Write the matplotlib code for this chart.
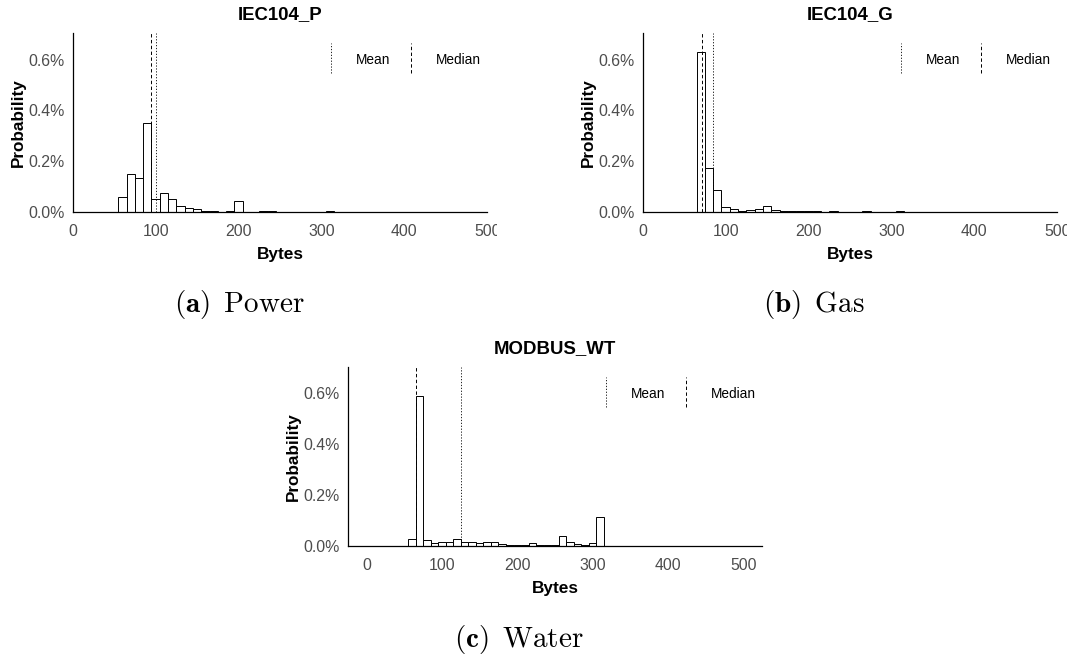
import matplotlib
matplotlib.use('Agg')
import matplotlib.pyplot as plt
from matplotlib.lines import Line2D
from matplotlib.legend_handler import HandlerBase
from matplotlib.transforms import Bbox, TransformedBbox
from matplotlib.ticker import FuncFormatter

plt.rcParams['font.family'] = 'Liberation Sans'
plt.rcParams['mathtext.fontset'] = 'cm'

# packet length histograms, 10-byte bins centred on these values (probability in %)
bin_centers = [60, 70, 80, 90, 100, 110, 120, 130, 140, 150, 160, 170, 180,
               190, 200, 210, 220, 230, 240, 250, 260, 270, 280, 290, 300, 310]
power_prob = [0.061, 0.150, 0.132, 0.351, 0.051, 0.076, 0.053, 0.022, 0.016,
              0.012, 0.004, 0.004, 0.000, 0.003, 0.045, 0.001, 0.001, 0.003,
              0.005, 0.001, 0.001, 0.000, 0.000, 0.001, 0.000, 0.003]
gas_prob = [0.000, 0.632, 0.175, 0.087, 0.020, 0.012, 0.004, 0.007, 0.011,
            0.024, 0.008, 0.005, 0.004, 0.003, 0.003, 0.002, 0.001, 0.002,
            0.001, 0.001, 0.001, 0.002, 0.000, 0.000, 0.000, 0.004]
water_prob = [0.025, 0.589, 0.022, 0.012, 0.014, 0.016, 0.028, 0.016, 0.016,
              0.012, 0.016, 0.013, 0.008, 0.004, 0.002, 0.004, 0.012, 0.002,
              0.004, 0.002, 0.039, 0.016, 0.008, 0.001, 0.009, 0.114]

titles = ['IEC104_P', 'IEC104_G', 'MODBUS_WT']
tags = ['(a)', '(b)', '(c)']
names = ['Power', 'Gas', 'Water']
means = [101, 85, 125]
medians = [94, 72, 66]

x_ticks = [0, 100, 200, 300, 400, 500]
y_ticks = [0.0, 0.2, 0.4, 0.6]

W, H = 1075, 658
fig = plt.figure(figsize=(W / 100, H / 100), dpi=100)

MEAN_LS = (0, (1.5, 2))
MEDIAN_LS = (0, (3.5, 2.5))
TICK_GREY = '#4d4d4d'


class VLineHandler(HandlerBase):
    # legend key drawn as a short vertical line
    def create_artists(self, legend, orig_handle, xdescent, ydescent,
                       width, height, fontsize, trans):
        x = width / 2 - xdescent
        mid = 0.36 * fontsize + 0.9
        half = 10.8
        line = Line2D([x, x], [mid - half, mid + half])
        line.update_from(orig_handle)
        line.set_transform(trans)
        return [line]


def px_rect(left, top, right, bottom):
    return [left / W, 1 - bottom / H, (right - left) / W, (bottom - top) / H]


def draw_panel(rect, values, title, mean, median, xlim, clip_right=None):
    ax = fig.add_axes(rect)
    ax.bar(bin_centers, values, width=10, color='white', edgecolor='black',
           linewidth=0.7, zorder=2)
    ax.axvline(mean, color='black', lw=0.6, linestyle=MEAN_LS, zorder=3)
    ax.axvline(median, color='black', lw=0.7, linestyle=MEDIAN_LS, zorder=3)

    ax.set_xlim(*xlim)
    ax.set_ylim(0, 0.705)
    ax.set_xticks(x_ticks)
    ax.set_yticks(y_ticks)
    ax.yaxis.set_major_formatter(FuncFormatter(lambda v, p: f'{v:.1f}%'))
    ax.tick_params(length=0, labelsize=11.4, labelcolor=TICK_GREY)
    ax.tick_params(axis='x', pad=9)
    ax.tick_params(axis='y', pad=6)

    for side in ['top', 'right']:
        ax.spines[side].set_visible(False)
    for side in ['left', 'bottom']:
        ax.spines[side].set_linewidth(0.9)

    ax.set_title(title, fontsize=13.4, fontweight='bold', pad=9.8)
    ax.set_xlabel('Bytes', fontsize=12.4, fontweight='bold', labelpad=5.5)
    ax.set_ylabel('Probability', fontsize=12.3, fontweight='bold', labelpad=1.2)

    handles = [Line2D([], [], color='black', lw=0.6, linestyle=MEAN_LS),
               Line2D([], [], color='black', lw=0.7, linestyle=MEDIAN_LS)]
    ax.legend(handles, ['Mean', 'Median'], ncol=2, frameon=False,
              fontsize=9.8, loc='upper left', bbox_to_anchor=(0.590, 0.946),
              borderpad=0, handlelength=1.0, handletextpad=1.33,
              columnspacing=1.05, handleheight=2.0,
              handler_map={Line2D: VLineHandler()})

    if clip_right is not None:
        clip = TransformedBbox(Bbox([[0, 0], [clip_right / W, 1]]), fig.transFigure)
        for lbl in ax.get_xticklabels():
            lbl.set_clip_box(clip)
            lbl.set_clip_on(True)
    return ax


draw_panel(px_rect(72.7, 33, 487.3, 212), power_prob, titles[0], means[0],
           medians[0], (0, 500), clip_right=496.7)
draw_panel(px_rect(642.7, 33, 1057.3, 212), gas_prob, titles[1], means[1],
           medians[1], (0, 500), clip_right=1066.7)
draw_panel(px_rect(347.7, 366.7, 762.3, 545.7), water_prob, titles[2], means[2],
           medians[2], (-25, 525))

# sub-figure captions
caption_pos = [(239.2, 311.7), (813.3, 311.7), (518.7, 647.3)]
for (cx, cy), tag, name in zip(caption_pos, tags, names):
    fig.text(cx / W, 1 - cy / H, r'$\mathbf{' + tag + r'}\enspace\mathrm{' + name + '}$',
             ha='center', va='baseline', fontsize=21)

fig.savefig('out.png', dpi=100)
